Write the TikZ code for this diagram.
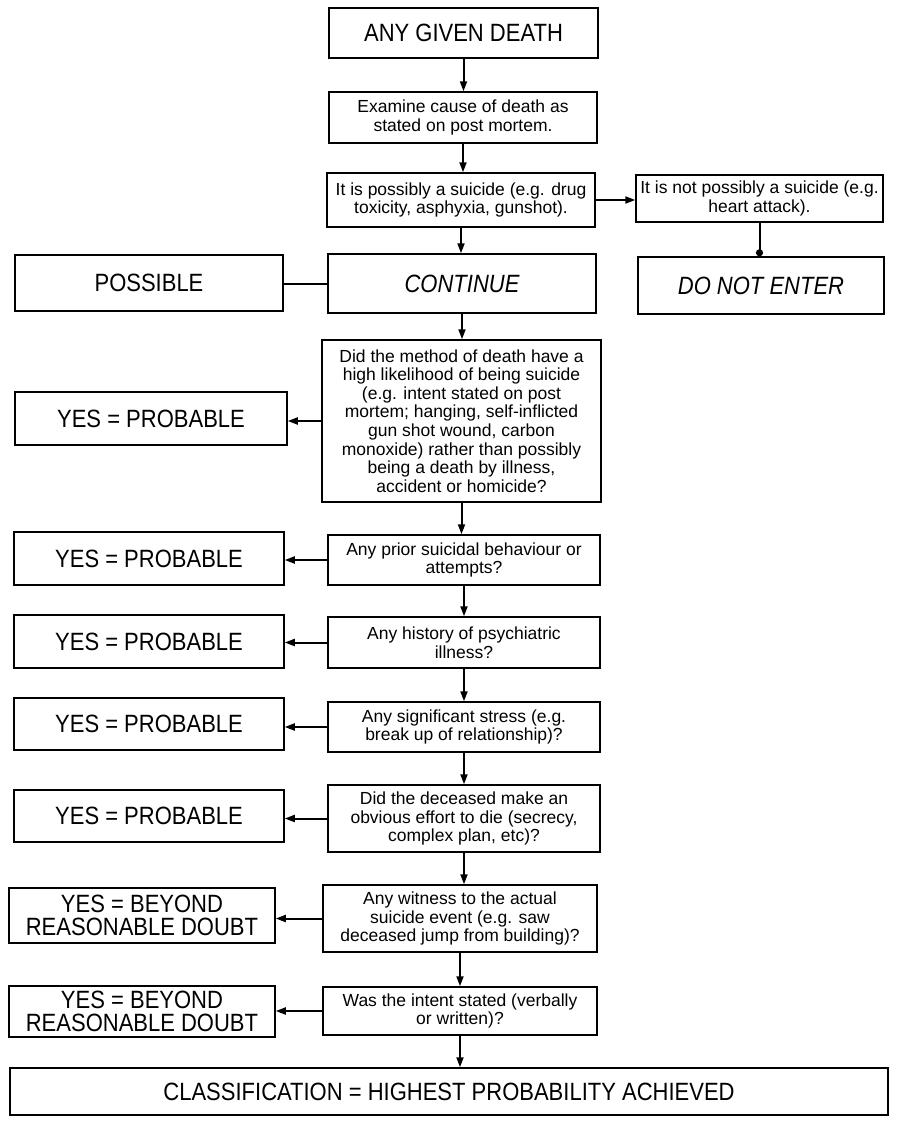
\documentclass[tikz,border=0pt]{standalone}
\usepackage{fontspec}
\setmainfont{Liberation Sans}
\newfontfamily\narrowcaps[FakeStretch=0.88]{Liberation Sans}
\usetikzlibrary{arrows.meta,calc}

\begin{document}
\begin{tikzpicture}[x=1pt, y=-1pt,
    every node/.style={draw, line width=1.5pt, inner sep=0pt, align=center},
    big/.style={font=\narrowcaps\fontsize{25}{23}\selectfont},
    small/.style={font=\fontsize{17.5}{18.6}\selectfont},
    link/.style={line width=2pt, -{Triangle[length=10pt,width=7pt]}}]
  \useasboundingbox (0,0) rectangle (909,1127);

  %% main column, from the death down to the last question
  \node [big, minimum width=269pt, minimum height=50pt] (death) at (463.5,33) {ANY GIVEN DEATH};
  \node [small, minimum width=268pt, minimum height=51pt] (examine) at (463,117.5)
    {Examine cause of death as\\stated on post mortem.};
  \node [small, minimum width=268pt, minimum height=54pt] (possibly) at (461,200)
    {It is possibly a suicide (e.g. drug\\toxicity, asphyxia, gunshot).};
  \node [small, minimum width=247pt, minimum height=47pt] (notpossibly) at (759.5,198.5)
    {It is not possibly a suicide (e.g.\\heart attack).};
  \node [big, minimum width=268pt, minimum height=56pt] (possible) at (149,283) {POSSIBLE};
  \node [big, minimum width=268pt, minimum height=59pt] (continue) at (462,283.5) {\itshape CONTINUE};
  \node [big, minimum width=246pt, minimum height=57pt] (donot) at (761,285.5) {\itshape DO NOT ENTER};
  \node [small, minimum width=279pt, minimum height=162pt] (method) at (461.5,421)
    {Did the method of death have a\\high likelihood of being suicide\\(e.g. intent stated on post\\
     mortem; hanging, self-inflicted\\gun shot wound, carbon\\monoxide) rather than possibly\\
     being a death by illness,\\accident or homicide?};
  \node [small, minimum width=272pt, minimum height=50pt] (prior) at (464,560)
    {Any prior suicidal behaviour or\\attempts?};
  \node [small, minimum width=272pt, minimum height=51pt] (history) at (464,642.5)
    {Any history of psychiatric\\illness?};
  \node [small, minimum width=272pt, minimum height=50pt] (stress) at (464,727)
    {Any significant stress (e.g.\\break up of relationship)?};
  \node [small, minimum width=272pt, minimum height=67pt] (effort) at (464,818.5)
    {Did the deceased make an\\obvious effort to die (secrecy,\\complex plan, etc)?};
  \node [small, minimum width=274pt, minimum height=67pt] (witness) at (460,918.5)
    {Any witness to the actual\\suicide event (e.g. saw\\deceased jump from building)?};
  \node [small, minimum width=274pt, minimum height=48pt] (stated) at (460,1011)
    {Was the intent stated (verbally\\or written)?};
  \node [big, minimum width=878pt, minimum height=47pt] (result) at (449,1091.5)
    {CLASSIFICATION = HIGHEST PROBABILITY ACHIEVED};

  %% answers on the left
  \node [big, minimum width=272pt, minimum height=53pt] (yes1) at (151,418.5) {YES = PROBABLE};
  \node [big, minimum width=270pt, minimum height=53pt] (yes2) at (149,558.5) {YES = PROBABLE};
  \node [big, minimum width=270pt, minimum height=53pt] (yes3) at (149,641.5) {YES = PROBABLE};
  \node [big, minimum width=270pt, minimum height=52pt] (yes4) at (149,724) {YES = PROBABLE};
  \node [big, minimum width=270pt, minimum height=52pt] (yes5) at (149,816) {YES = PROBABLE};
  \node [big, minimum width=266pt, minimum height=55pt] (sure1) at (142,915.5)
    {YES = BEYOND\\REASONABLE DOUBT};
  \node [big, minimum width=266pt, minimum height=51pt] (sure2) at (142,1011.5)
    {YES = BEYOND\\REASONABLE DOUBT};

  %% connectors
  \foreach \a/\b in {death/examine, examine/possibly, possibly/continue, continue/method,
      method/prior, prior/history, history/stress, stress/effort, effort/witness,
      witness/stated, stated/result}
    \draw [link] (\a.south) -- (\a.south |- \b.north);
  \foreach \a/\b in {method/yes1, prior/yes2, history/yes3, stress/yes4, effort/yes5,
      witness/sure1, stated/sure2}
    \draw [link] (\a.west) -- (\a.west -| \b.east);
  \draw [link] (possibly.east) -- (possibly.east -| notpossibly.west);
  \draw [line width=2pt] (continue.west) -- (continue.west -| possible.east);
  \draw [line width=2pt, -{Circle[length=7pt]}] (notpossibly.south) -- (notpossibly.south |- donot.north);
\end{tikzpicture}
\end{document}
